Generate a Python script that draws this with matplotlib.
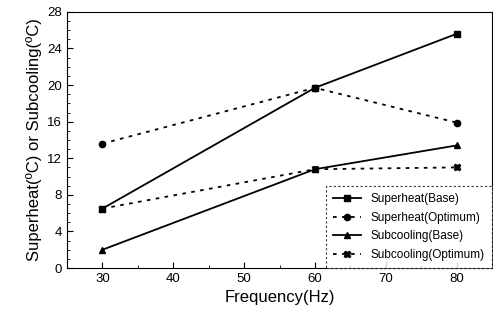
import matplotlib
matplotlib.use('Agg')
import matplotlib.pyplot as plt
from matplotlib.ticker import MultipleLocator

plt.rcParams['font.family'] = ['Liberation Sans', 'DejaVu Sans']

freq = [30, 60, 80]
superheat_base = [6.5, 19.7, 25.6]
superheat_opt = [13.6, 19.7, 15.9]
subcool_base = [2.0, 10.8, 13.4]
subcool_opt = [6.5, 10.8, 11.0]


def main():
	fig = plt.figure(figsize=(4.93, 3.21), dpi=100)
	ax = fig.add_axes([0.136, 0.165, 0.862, 0.798])

	ax.plot(freq, superheat_base, c='black', lw=1.3, marker='s', ms=4.5, label='Superheat(Base)')
	ax.plot(freq, superheat_opt, c='black', lw=1.3, ls=(0, (2, 3)), marker='o', ms=4.5, label='Superheat(Optimum)')
	ax.plot(freq, subcool_base, c='black', lw=1.3, marker='^', ms=5, label='Subcooling(Base)')
	ax.plot(freq, subcool_opt, c='black', lw=1.3, ls=(0, (2, 3)), marker='X', ms=4.5, label='Subcooling(Optimum)')

	ax.set_xlim(25, 85)
	ax.set_ylim(0, 28)
	ax.xaxis.set_major_locator(MultipleLocator(10))
	ax.xaxis.set_minor_locator(MultipleLocator(5))
	ax.yaxis.set_major_locator(MultipleLocator(4))
	ax.yaxis.set_minor_locator(MultipleLocator(1))
	ax.tick_params(which='both', direction='in', labelsize=9.5)
	ax.tick_params(which='major', length=4)
	ax.tick_params(which='minor', length=2)

	ax.set_xlabel('Frequency(Hz)', fontsize=12)
	ax.set_ylabel('Superheat(\u00baC) or Subcooling(\u00baC)', fontsize=12)

	leg = ax.legend(loc='lower right', fontsize=8.5, frameon=True, fancybox=False,
		handlelength=2.4, borderaxespad=0.0, labelspacing=0.55, borderpad=0.6)
	leg.get_frame().set_edgecolor('black')
	leg.get_frame().set_linestyle((0, (2, 2)))
	leg.get_frame().set_linewidth(0.8)

	fig.savefig('out.png', dpi=100)


if __name__ == "__main__":
	main()
